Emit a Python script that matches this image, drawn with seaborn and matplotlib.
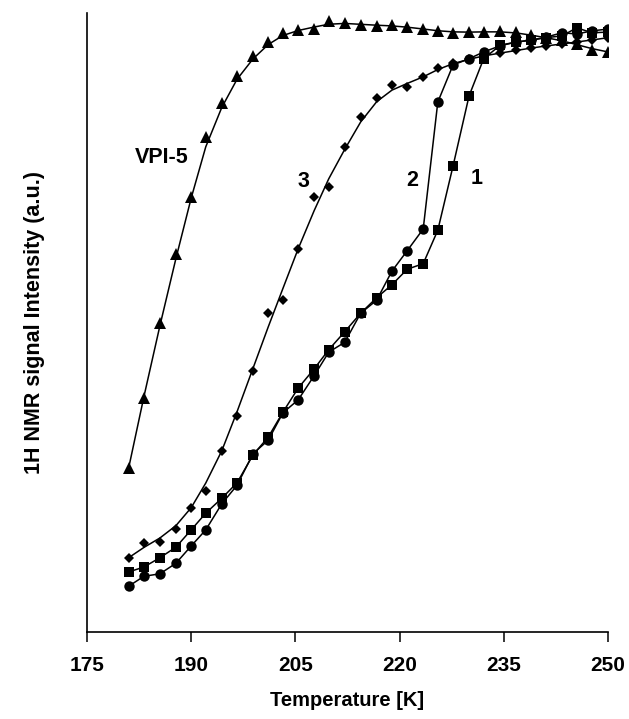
import numpy as np
import pandas as pd
import matplotlib
matplotlib.use("Agg")
import matplotlib.pyplot as plt
import seaborn as sns

# Measurement temperatures (K)
temperature = [181.0, 183.2, 185.5, 187.8, 190.0, 192.1, 194.4, 196.6, 198.9, 201.1,
               203.2, 205.4, 207.7, 209.8, 212.1, 214.4, 216.7, 218.9, 221.1, 223.4,
               225.5, 227.7, 230.0, 232.1, 234.5, 236.8, 238.9, 241.1, 243.4, 245.5,
               247.7, 250.0]

# 1H NMR signal intensity (arbitrary units)
vpi5 = [26.5, 37.8, 49.9, 61.1, 70.3, 80.0, 85.5, 89.8, 93.1, 95.3,
        96.8, 97.3, 97.4, 98.7, 98.4, 98.1, 97.9, 98.1, 97.7, 97.4,
        97.1, 96.8, 96.9, 96.9, 97.1, 96.9, 96.4, 96.0, 95.6, 95.0,
        94.0, 93.7]
sample3 = [12.0, 14.4, 14.5, 16.6, 20.0, 22.8, 29.2, 34.9, 42.2, 51.5,
           53.6, 61.9, 70.3, 71.9, 78.4, 83.2, 86.3, 88.4, 88.0, 89.7,
           91.1, 91.9, 92.6, 93.1, 93.5, 94.0, 94.3, 94.7, 95.0, 95.3,
           95.6, 96.0]
sample2 = [7.4, 9.0, 9.4, 11.1, 13.9, 16.5, 20.7, 23.7, 28.8, 31.0,
           35.4, 37.5, 41.4, 45.2, 46.8, 51.5, 53.6, 58.3, 61.6, 65.1,
           85.6, 91.6, 92.6, 93.7, 94.7, 95.3, 95.6, 96.1, 96.8, 96.6,
           97.1, 97.4]
sample1 = [9.7, 10.5, 12.0, 13.7, 16.5, 19.2, 21.6, 24.1, 28.6, 31.5,
           35.5, 39.4, 42.5, 45.6, 48.5, 51.5, 54.0, 56.1, 58.6, 59.5,
           64.9, 75.3, 86.6, 92.6, 94.8, 95.3, 95.6, 96.0, 96.3, 97.6,
           96.8, 96.9]

x_ticks = [175, 190, 205, 220, 235, 250]


def smooth(values, passes=2):
    """Light [1, 2, 1] smoothing for the trend curves, ends held fixed."""
    v = np.asarray(values, dtype=float)
    for _ in range(passes):
        s = v.copy()
        s[1:-1] = 0.25 * v[:-2] + 0.5 * v[1:-1] + 0.25 * v[2:]
        v = s
    return v


sns.set_theme(style="white")
plt.rcParams["font.family"] = ["Liberation Sans", "DejaVu Sans"]
plt.rcParams["text.color"] = "black"
plt.rcParams["axes.labelcolor"] = "black"
plt.rcParams["xtick.color"] = "black"
plt.rcParams["ytick.color"] = "black"

fig = plt.figure(figsize=(6.29, 7.19), dpi=100)
ax = fig.add_axes([0.1383, 0.121, 0.8283, 0.861])

series = [
    ("VPI-5", vpi5, "^", 8.5, True),
    ("3", sample3, "D", 5.5, True),
    ("2", sample2, "o", 7.5, False),
    ("1", sample1, "s", 6.5, False),
]

for name, values, marker, ms, smoothed in series:
    line_y = smooth(values) if smoothed else np.asarray(values)
    sns.lineplot(x=temperature, y=line_y, ax=ax, color="black", linewidth=1.1,
                 sort=False, legend=False)
    sns.lineplot(x=temperature, y=values, ax=ax, color="black", linestyle="none",
                 marker=marker, markersize=ms, markeredgewidth=0, sort=False,
                 legend=False)

label_style = dict(fontsize=15.5, fontweight="bold", color="black",
                   ha="center", va="center")
ax.text(185.8, 76.7, "VPI-5", **label_style)
ax.text(206.1, 72.7, "3", **label_style)
ax.text(221.8, 73.0, "2", **label_style)
ax.text(231.1, 73.3, "1", **label_style)

ax.set_xlim(175, 250)
ax.set_ylim(0, 100)
ax.set_xticks(x_ticks)
ax.set_xticklabels([str(t) for t in x_ticks], fontsize=15, fontweight="bold",
                   color="black")
ax.set_yticks([])
ax.tick_params(axis="x", direction="out", length=7, width=1.1, pad=10,
               colors="black", bottom=True)

ax.set_xlabel("Temperature [K]", fontsize=14.5, fontweight="bold", labelpad=12,
              color="black")
ax.set_ylabel("1H NMR signal Intensity (a.u.)", fontsize=15.5, fontweight="bold",
              labelpad=30, color="black")

for side in ("top", "right"):
    ax.spines[side].set_visible(False)
for side in ("left", "bottom"):
    ax.spines[side].set_color("black")
    ax.spines[side].set_linewidth(1.2)

fig.savefig("out.png", dpi=100, facecolor="white")
